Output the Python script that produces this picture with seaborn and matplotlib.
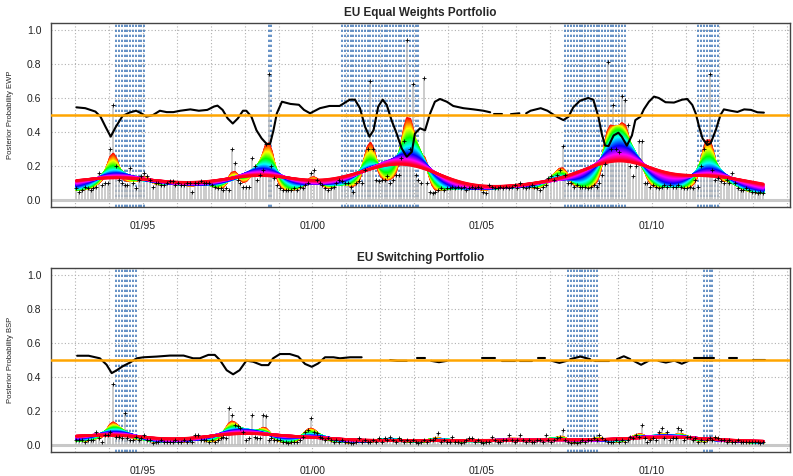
import numpy as np
import pandas as pd
import matplotlib
matplotlib.use("Agg")
import matplotlib.pyplot as plt
import seaborn as sns
import colorsys

sns.set_style("white")
plt.rcParams['font.family'] = ['Liberation Sans', 'DejaVu Sans']

# ---------------- data ----------------
START_YEAR = 1993  # first monthly observation: Jan 1993

ewp_monthly = [
    0.07, 0.05, 0.06, 0.08, 0.07, 0.06, 0.07, 0.08, 0.16, 0.09, 0.10, 0.10,  # 1993
    0.30, 0.56, 0.20, 0.12, 0.10, 0.09, 0.09, 0.19, 0.10, 0.07, 0.12, 0.14,  # 1994
    0.16, 0.14, 0.12, 0.08, 0.10, 0.10, 0.09, 0.09, 0.10, 0.11, 0.11, 0.09,  # 1995
    0.10, 0.09, 0.09, 0.10, 0.10, 0.05, 0.10, 0.10, 0.11, 0.10, 0.10, 0.10,  # 1996
    0.09, 0.08, 0.07, 0.07, 0.06, 0.07, 0.06, 0.30, 0.22, 0.12, 0.10, 0.08,  # 1997
    0.08, 0.08, 0.25, 0.20, 0.12, 0.15, 0.18, 0.33, 0.74, 0.20, 0.13, 0.09,  # 1998
    0.07, 0.06, 0.06, 0.06, 0.06, 0.07, 0.06, 0.08, 0.07, 0.09, 0.10, 0.16,  # 1999
    0.18, 0.12, 0.10, 0.09, 0.07, 0.06, 0.07, 0.08, 0.10, 0.12, 0.11, 0.10,  # 2000
    0.10, 0.08, 0.05, 0.10, 0.11, 0.10, 0.18, 0.30, 0.70, 0.30, 0.12, 0.11,  # 2001
    0.12, 0.12, 0.14, 0.10, 0.12, 0.15, 0.15, 0.25, 0.35, 0.94, 0.30, 0.68,  # 2002
    0.15, 0.12, 0.10, 0.72, 0.10, 0.05, 0.04, 0.05, 0.06, 0.07, 0.06, 0.07,  # 2003
    0.07, 0.08, 0.07, 0.08, 0.07, 0.08, 0.06, 0.07, 0.08, 0.07, 0.08, 0.07,  # 2004
    0.05, 0.04, 0.09, 0.08, 0.07, 0.07, 0.08, 0.07, 0.08, 0.07, 0.08, 0.09,  # 2005
    0.07, 0.10, 0.08, 0.07, 0.08, 0.09, 0.08, 0.07, 0.06, 0.08, 0.09, 0.13,  # 2006
    0.14, 0.12, 0.15, 0.18, 0.32, 0.15, 0.10, 0.10, 0.08, 0.09, 0.08, 0.08,  # 2007
    0.08, 0.07, 0.08, 0.09, 0.08, 0.10, 0.15, 0.21, 0.81, 0.30, 0.56, 0.30,  # 2008
    0.28, 0.61, 0.59, 0.44, 0.20, 0.14, 0.20, 0.35, 0.35, 0.10, 0.10, 0.08,  # 2009
    0.09, 0.08, 0.07, 0.08, 0.09, 0.08, 0.09, 0.08, 0.08, 0.09, 0.08, 0.07,  # 2010
    0.07, 0.08, 0.07, 0.12, 0.08, 0.20, 0.30, 0.35, 0.74, 0.18, 0.12, 0.13,  # 2011
    0.11, 0.10, 0.12, 0.10, 0.16, 0.10, 0.07, 0.06, 0.06, 0.07, 0.06, 0.05,  # 2012
    0.05, 0.04, 0.05, 0.04,                                                  # 2013
]

bsp_monthly = [
    0.03, 0.03, 0.03, 0.02, 0.03, 0.03, 0.03, 0.08, 0.04, 0.02, 0.06, 0.06,  # 1993
    0.08, 0.36, 0.05, 0.05, 0.04, 0.19, 0.04, 0.03, 0.03, 0.05, 0.03, 0.04,  # 1994
    0.06, 0.03, 0.03, 0.01, 0.02, 0.02, 0.03, 0.02, 0.02, 0.02, 0.02, 0.03,  # 1995
    0.02, 0.02, 0.03, 0.02, 0.03, 0.02, 0.06, 0.06, 0.03, 0.03, 0.03, 0.02,  # 1996
    0.03, 0.02, 0.03, 0.04, 0.05, 0.04, 0.22, 0.18, 0.12, 0.11, 0.10, 0.08,  # 1997
    0.03, 0.04, 0.18, 0.05, 0.04, 0.04, 0.18, 0.17, 0.03, 0.04, 0.03, 0.03,  # 1998
    0.03, 0.02, 0.02, 0.01, 0.02, 0.02, 0.02, 0.03, 0.05, 0.08, 0.09, 0.16,  # 1999
    0.08, 0.07, 0.05, 0.04, 0.03, 0.04, 0.03, 0.02, 0.03, 0.02, 0.03, 0.02,  # 2000
    0.02, 0.01, 0.01, 0.02, 0.04, 0.02, 0.03, 0.02, 0.02, 0.03, 0.02, 0.04,  # 2001
    0.02, 0.04, 0.03, 0.05, 0.03, 0.02, 0.04, 0.03, 0.02, 0.03, 0.02, 0.03,  # 2002
    0.02, 0.01, 0.02, 0.03, 0.02, 0.03, 0.03, 0.04, 0.07, 0.02, 0.03, 0.02,  # 2003
    0.02, 0.05, 0.02, 0.02, 0.01, 0.02, 0.03, 0.04, 0.04, 0.02, 0.03, 0.02,  # 2004
    0.01, 0.02, 0.02, 0.05, 0.03, 0.02, 0.02, 0.03, 0.03, 0.06, 0.03, 0.02,  # 2005
    0.03, 0.06, 0.03, 0.02, 0.03, 0.02, 0.02, 0.03, 0.03, 0.02, 0.06, 0.03,  # 2006
    0.02, 0.03, 0.04, 0.05, 0.09, 0.03, 0.02, 0.01, 0.02, 0.01, 0.02, 0.03,  # 2007
    0.02, 0.03, 0.03, 0.04, 0.03, 0.06, 0.04, 0.03, 0.02, 0.02, 0.02, 0.03,  # 2008
    0.02, 0.03, 0.02, 0.03, 0.05, 0.04, 0.06, 0.05, 0.12, 0.04, 0.02, 0.03,  # 2009
    0.04, 0.03, 0.08, 0.10, 0.04, 0.08, 0.03, 0.04, 0.04, 0.10, 0.09, 0.03,  # 2010
    0.05, 0.05, 0.03, 0.04, 0.02, 0.03, 0.02, 0.03, 0.04, 0.03, 0.05, 0.04,  # 2011
    0.03, 0.03, 0.02, 0.03, 0.02, 0.02, 0.03, 0.02, 0.02, 0.02, 0.02, 0.02,  # 2012
    0.02, 0.02, 0.01, 0.02,                                                  # 2013
]

nan = float("nan")
ewp_line_t = [1993.04, 1993.3, 1993.6, 1993.75, 1993.9, 1994.05, 1994.2, 1994.4, 1994.6, 1994.8,
              1994.95, 1995.1, 1995.3, 1995.5, 1995.7, 1995.9, 1996.1, 1996.4, 1996.65, 1996.9,
              1997.1, 1997.2, 1997.35, 1997.5, 1997.65, 1997.8, 1997.95, 1998.05, 1998.2, 1998.35,
              1998.5, 1998.65, 1998.75, 1998.85, 1998.95, 1999.1, 1999.35, 1999.6, 1999.75, 1999.93,
              2000.22, 2000.5, 2000.8, 2001.1, 2001.25, 2001.4, 2001.55, 2001.68, 2001.8, 2001.94,
              2002.07, 2002.19, 2002.33, 2002.48, 2002.63, 2002.78, 2002.93, 2003.02, 2003.17, 2003.32,
              2003.47, 2003.61, 2003.76, 2003.96, 2004.15, 2004.45, 2004.75, 2005.04, 2005.24, 2005.3,
              2005.35, 2005.6, 2005.65, 2005.85, 2006.1, 2006.15, 2006.3, 2006.43, 2006.73, 2006.93,
              2007.12, 2007.25, 2007.4, 2007.55, 2007.69, 2007.89, 2008.13, 2008.28, 2008.43, 2008.53,
              2008.63, 2008.73, 2008.88, 2009.02, 2009.12, 2009.27, 2009.42, 2009.52, 2009.67, 2009.77,
              2009.92, 2010.07, 2010.21, 2010.41, 2010.66, 2010.9, 2011.05, 2011.2, 2011.3, 2011.4,
              2011.5, 2011.64, 2011.74, 2011.89, 2012.03, 2012.13, 2012.33, 2012.53, 2012.73, 2012.93,
              2013.12, 2013.31]
ewp_line_p = [0.545, 0.54, 0.52, 0.49, 0.43, 0.373, 0.43, 0.494, 0.514, 0.525,
              0.51, 0.49, 0.50, 0.525, 0.517, 0.517, 0.525, 0.533, 0.525, 0.53,
              0.55, 0.555, 0.53, 0.48, 0.45, 0.48, 0.525, 0.525, 0.49, 0.41,
              0.363, 0.33, 0.33, 0.41, 0.51, 0.578, 0.565, 0.56, 0.53, 0.51,
              0.54, 0.553, 0.553, 0.59, 0.59, 0.54, 0.431, 0.373, 0.41, 0.55,
              0.59, 0.559, 0.47, 0.392, 0.304, 0.255, 0.284, 0.39, 0.422, 0.41,
              0.51, 0.578, 0.594, 0.578, 0.553, 0.54, 0.533, 0.525, 0.516, nan,
              0.505, 0.505, nan, 0.505, 0.51, nan, 0.51, 0.525, 0.54, 0.525,
              0.50, 0.485, 0.47, 0.49, 0.545, 0.584, 0.60, 0.59, 0.49, 0.39,
              0.32, 0.318, 0.38, 0.396, 0.373, 0.32, 0.38, 0.47, 0.49, 0.533,
              0.578, 0.608, 0.60, 0.575, 0.573, 0.59, 0.594, 0.559, 0.51, 0.431,
              0.363, 0.324, 0.334, 0.41, 0.50, 0.533, 0.525, 0.518, 0.533, 0.53,
              0.516, 0.514]

bsp_line_t = [1993.06, 1993.4, 1993.73, 1993.93, 1994.08, 1994.23, 1994.42, 1994.62, 1994.82, 1995.02,
              1995.4, 1995.8, 1996.2, 1996.48, 1996.68, 1996.93, 1997.12, 1997.27, 1997.47, 1997.66,
              1997.85, 1998.05, 1998.25, 1998.5, 1998.7, 1998.84, 1999.04, 1999.33, 1999.58, 1999.78,
              1999.98, 2000.17, 2000.37, 2000.62, 2000.81, 2001.11, 2001.45, 2001.9,
              2002.29, 2002.5, 2002.78, 2002.9,
              2003.07, 2003.32, 2003.4,
              2003.5, 2003.73, 2003.96, 2004.5,
              2004.99, 2005.38, 2005.5,
              2005.58, 2005.97, 2006.05,
              2006.12, 2006.47, 2006.55,
              2006.66, 2006.86, 2006.95,
              2007.06, 2007.28, 2007.5, 2007.55,
              2007.6, 2007.9, 2008.19, 2008.25,
              2008.34, 2008.73, 2008.85,
              2008.98, 2009.18, 2009.37, 2009.42,
              2009.47, 2009.69, 2009.91, 2010.05,
              2010.2, 2010.42, 2010.64, 2010.66,
              2010.69, 2010.89, 2011.09, 2011.15,
              2011.24, 2011.83, 2012.0,
              2012.27, 2012.52, 2012.8,
              2013.0, 2013.35]
bsp_line_p = [0.525, 0.525, 0.51, 0.472, 0.423, 0.44, 0.465, 0.485, 0.51, 0.516,
              0.52, 0.526, 0.526, 0.51, 0.51, 0.53, 0.53, 0.50, 0.44, 0.416,
              0.44, 0.496, 0.49, 0.47, 0.47, 0.51, 0.535, 0.535, 0.52, 0.477,
              0.46, 0.48, 0.516, 0.516, 0.51, 0.516, 0.516, nan,
              0.50, 0.495, 0.495, nan,
              0.51, 0.51, nan,
              0.495, 0.487, 0.495, nan,
              0.51, 0.51, nan,
              0.495, 0.495, nan,
              0.497, 0.497, nan,
              0.51, 0.51, nan,
              0.495, 0.483, 0.495, nan,
              0.505, 0.52, 0.505, nan,
              0.495, 0.495, nan,
              0.505, 0.522, 0.505, nan,
              0.495, 0.472, 0.495, nan,
              0.495, 0.485, 0.495, nan,
              0.495, 0.478, 0.495, nan,
              0.51, 0.51, nan,
              0.51, 0.51, nan,
              0.50, 0.50]

# recession periods (decimal years) shown as dotted blue monthly lines
ewp_recessions = [(1994.17, 1995.09), (1998.66, 1998.83), (2000.81, 2003.17),
                  (2007.39, 2009.28), (2011.31, 2012.02)]
bsp_recessions = [(1994.17, 1994.85), (2007.54, 2008.39), (2011.46, 2011.87)]

tick_years = [1995, 2000, 2005, 2010]
tick_labels = ["01/95", "01/00", "01/05", "01/10"]
y_ticks = [0.0, 0.2, 0.4, 0.6, 0.8, 1.0]
y_tick_labels = ["0.0", "0.2", "0.4", "0.6", "0.8", "1.0"]
grid_years = list(range(1993, 2015))
threshold = 0.5

titles = ["EU Equal Weights Portfolio", "EU Switching Portfolio"]
ylabels = ["Posterior Probability EWP", "Posterior Probability BSP"]

# ---------------- drawing ----------------
N_CURVES = 60
SIGMAS = np.geomspace(0.14, 0.95, N_CURVES)
RAINBOW = [colorsys.hsv_to_rgb(i / N_CURVES, 1.0, 1.0) for i in range(N_CURVES)]
BLUE = "#4A7EBB"


def draw_panel(ax, values, line_t, line_p, recessions, title, ylabel):
    v = np.asarray(values, dtype=float)
    t = START_YEAR + (np.arange(len(v)) + 0.5) / 12.0

    # grid
    ax.set_xticks(grid_years, minor=True)
    ax.grid(True, which="both", axis="x", color="#B0B0B0", lw=0.8, ls=(0, (1, 2)))
    ax.grid(True, which="major", axis="y", color="#B0B0B0", lw=0.8, ls=(0, (1, 2)))
    ax.set_axisbelow(True)

    # recession months
    for (s, e) in recessions:
        months = t[(t >= s) & (t <= e)]
        for m in months:
            ax.axvline(m, color=BLUE, lw=1.2, ls=(0, (1.4, 1.6)), zorder=1)

    # monthly posterior values as spikes
    ax.axhline(0, color="#C8C8C8", lw=2.2, zorder=1.5)
    ax.vlines(t, 0, v, color="#BEBEBE", lw=1.1, zorder=2)

    # rainbow smoothers
    frames = []
    for k, s in enumerate(SIGMAS):
        w = np.exp(-0.5 * ((t[:, None] - t[None, :]) / s) ** 2)
        sm = (w @ v) / w.sum(axis=1)
        frames.append(pd.DataFrame({"t": t, "val": sm, "k": k}))
    df = pd.concat(frames, ignore_index=True)
    sns.lineplot(data=df, x="t", y="val", hue="k", palette=RAINBOW, legend=False,
                 estimator=None, sort=False, lw=1.9, ax=ax, zorder=3)

    # points
    sns.scatterplot(x=t, y=v, marker="+", s=6, color="black", linewidth=0.6,
                    ax=ax, zorder=4)

    # smoothed posterior probability line
    lt = np.asarray(line_t, dtype=float)
    lp = np.asarray(line_p, dtype=float)
    seg = np.cumsum(np.isnan(lp))
    ldf = pd.DataFrame({"t": lt, "p": lp, "seg": seg}).dropna()
    sns.lineplot(data=ldf, x="t", y="p", units="seg", estimator=None, sort=False,
                 color="black", lw=1.5, ax=ax, zorder=5)

    ax.axhline(threshold, color="#FFA500", lw=1.8, zorder=6)

    ax.set_xlim(1992.29, 2014.08)
    ax.set_ylim(-0.04, 1.04)
    ax.set_xticks(tick_years)
    ax.set_xticklabels(tick_labels)
    ax.set_yticks(y_ticks)
    ax.set_yticklabels(y_tick_labels)
    ax.tick_params(axis="both", which="major", direction="out", length=5, width=0.8,
                   color="#444444", labelsize=7.5, labelcolor="#222222")
    ax.tick_params(axis="x", which="major", pad=5)
    ax.tick_params(axis="y", which="major", pad=2)
    ax.tick_params(which="minor", length=0)
    for sp in ax.spines.values():
        sp.set_visible(True)
        sp.set_color("#444444")
        sp.set_linewidth(1.0)
    ax.set_xlabel("")
    ax.set_ylabel(ylabel, fontsize=5.5, color="#222222")
    ax.yaxis.set_label_coords(-0.05, 0.5)
    ax.set_title(title, fontsize=8.5, fontweight="bold", pad=5)


fig = plt.figure(figsize=(7.93, 4.76), dpi=100)
ax1 = fig.add_axes([0.0643, 0.5651, 0.9319, 0.3866])
ax2 = fig.add_axes([0.0643, 0.0504, 0.9319, 0.3866])

draw_panel(ax1, ewp_monthly, ewp_line_t, ewp_line_p, ewp_recessions, titles[0], ylabels[0])
draw_panel(ax2, bsp_monthly, bsp_line_t, bsp_line_p, bsp_recessions, titles[1], ylabels[1])

fig.savefig("out.png", dpi=100)
